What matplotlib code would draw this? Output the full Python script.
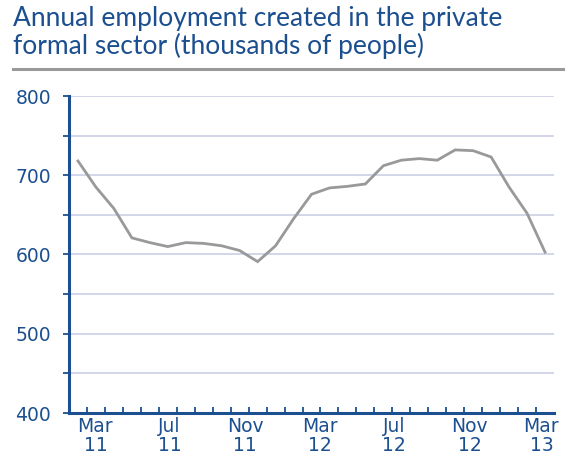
import matplotlib
matplotlib.use('Agg')
import matplotlib.pyplot as plt
import numpy as np

# Datos mensuales (miles de personas)
valores = [718, 685, 658, 621, 615, 610, 615, 614, 611, 605, 591, 611, 645,
           676, 684, 686, 689, 712, 719, 721, 719, 732, 731, 723, 685, 652, 603]
etiquetas = ['Mar\n11', 'Jul\n11', 'Nov\n11', 'Mar\n12', 'Jul\n12', 'Nov\n12', 'Mar\n13']
pos_etiquetas = [0.97, 5.1, 9.3, 13.47, 17.6, 21.8, 25.8]

azul = '#1c4f8f'
gris = '#999999'
grid_color = '#c6cbe2'

plt.rcParams['font.family'] = ['DejaVu Sans']

fig = plt.figure(figsize=(5.69, 4.65), dpi=100)
ax = fig.add_axes([69 / 569, 1 - 413 / 465, 485 / 569, 317 / 465])

x = np.arange(len(valores))
ax.plot(x, valores, color=gris, linewidth=2.0, solid_joinstyle='miter', zorder=3)

ax.set_xlim(-0.5, len(valores) - 0.5)
ax.set_ylim(400, 800)

# Rejilla cada 50
for y in np.arange(450, 801, 50):
    ax.axhline(y, color=grid_color, linewidth=1.1, zorder=1)

ax.set_yticks([400, 500, 600, 700, 800])
ax.set_yticks(np.arange(450, 800, 100), minor=True)
ax.tick_params(axis='y', which='both', direction='out', length=4, width=1.3,
               color=azul, labelcolor=azul, labelsize=13.5, pad=9)

ax.set_xticks(pos_etiquetas)
ax.set_xticklabels(etiquetas, linespacing=1.0)
ax.set_xticks(np.arange(0.5, len(valores) - 0.5, 1), minor=True)
ax.tick_params(axis='x', which='major', length=0, labelcolor=azul, labelsize=13.5, pad=3)
ax.tick_params(axis='x', which='minor', direction='in', length=4, width=1.3, color=azul)

for lado in ['top', 'right']:
    ax.spines[lado].set_visible(False)
for lado in ['left', 'bottom']:
    ax.spines[lado].set_color(azul)
    ax.spines[lado].set_linewidth(2.2)

fig.text(13 / 569, 1 - 6 / 465, 'Annual employment created in the private\nformal sector (thousands of people)',
         color=azul, fontsize=19, va='top', ha='left', linespacing=1.1, family=['Lato', 'DejaVu Sans'])
fig.add_artist(plt.Line2D([13 / 569, 563 / 569], [1 - 69.5 / 465, 1 - 69.5 / 465], color=gris, linewidth=2.2))

fig.savefig('out.png', dpi=100)
